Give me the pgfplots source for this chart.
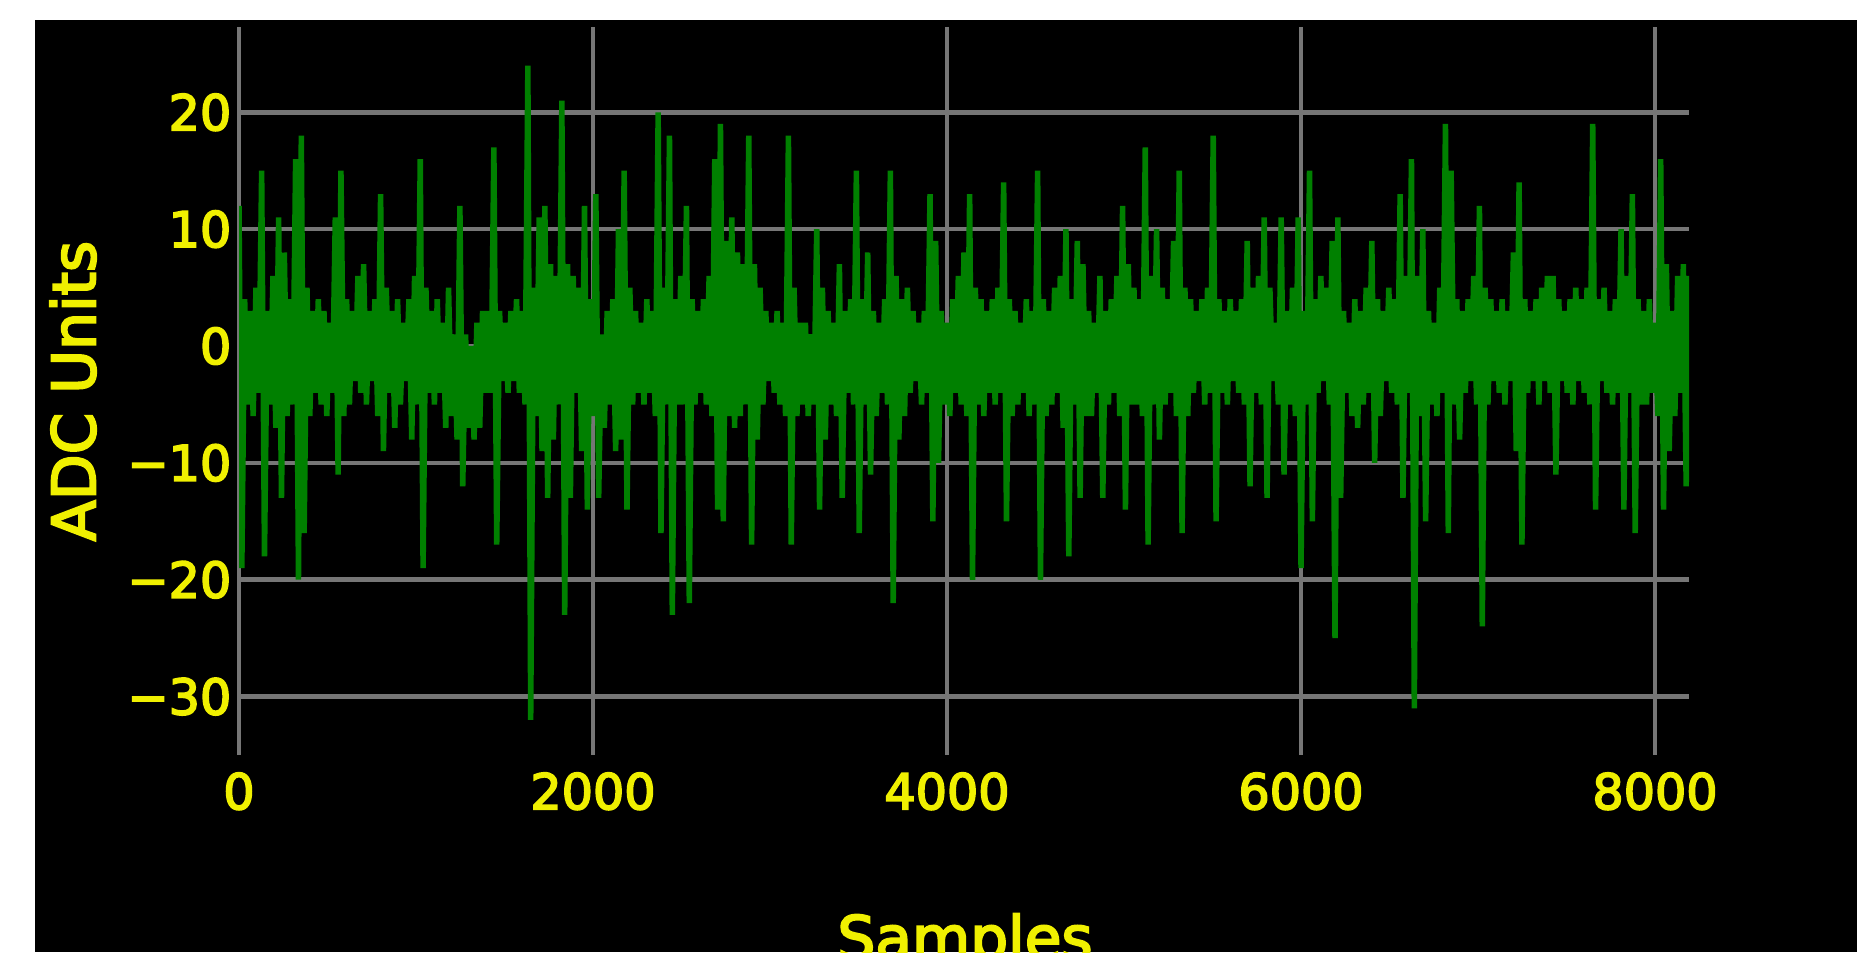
\documentclass[border=0pt]{standalone}
\usepackage{fontspec}
\setmainfont{DejaVu Sans}
\newfontfamily\lblfont{DejaVu Sans}[FakeBold=3.5]
\usepackage{pgfplots}
\pgfplotsset{compat=1.18}
\definecolor{adcgreen}{RGB}{0,128,0}
\definecolor{ticky}{RGB}{240,240,0}
\definecolor{gridc}{RGB}{118,118,118}

\begin{document}
\begin{tikzpicture}
\fill[white] (0,0) rectangle (185.7mm,95.2mm);
\fill[black] (3.5mm,0) rectangle (185.7mm,93.2mm);
\begin{axis}[
  at={(23.9mm,19.7mm)}, anchor=south west,
  scale only axis, width=145mm, height=72.8mm,
  xmin=0, xmax=8192, ymin=-35, ymax=27.3,
  axis line style={draw=none},
  tick style={draw=none},
  xtick={0,2000,4000,6000,8000},
  xticklabels={0,2000,4000,6000,8000},
  ytick={-30,-20,-10,0,10,20},
  yticklabels={−30,−20,−10,0,10,20},
  grid=major,
  major grid style={gridc, line width=0.45mm},
  ticklabel style={font=\lblfont\fontsize{14}{16}\selectfont, text=ticky},
  xticklabel style={anchor=north, inner sep=0pt, yshift=-1.7mm},
  yticklabel style={anchor=east, inner sep=0pt, xshift=-0.7mm},
]
% ADC samples, one value every 16 samples
\addplot[adcgreen, line width=0.55mm, line join=bevel]
  table[row sep=\\, x expr=\coordindex*16, y index=0] {
y\\
12\\-19\\4\\-5\\3\\-6\\5\\-4\\15\\-18\\3\\-5\\6\\-7\\11\\-13\\
8\\-6\\4\\-5\\16\\-20\\18\\-16\\5\\-6\\3\\-4\\4\\-5\\3\\-6\\
2\\-4\\11\\-11\\15\\-6\\4\\-5\\3\\-3\\6\\-4\\7\\-5\\3\\-3\\
4\\-6\\13\\-9\\5\\-4\\3\\-7\\4\\-5\\2\\-3\\4\\-8\\6\\-5\\
16\\-19\\5\\-4\\3\\-5\\4\\-4\\2\\-7\\5\\-6\\1\\-8\\12\\-12\\
1\\-7\\0\\-8\\2\\-7\\3\\-4\\3\\-4\\17\\-17\\3\\-3\\2\\-4\\
3\\-3\\4\\-4\\3\\-5\\24\\-32\\5\\-6\\11\\-9\\12\\-13\\7\\-8\\
6\\-5\\21\\-23\\7\\-13\\6\\-4\\5\\-9\\12\\-14\\4\\-6\\13\\-13\\
1\\-7\\3\\-5\\4\\-9\\10\\-8\\15\\-14\\5\\-5\\3\\-4\\2\\-5\\
4\\-4\\3\\-6\\20\\-16\\5\\-5\\18\\-23\\4\\-5\\6\\-5\\12\\-22\\
4\\-5\\3\\-4\\4\\-5\\6\\-6\\16\\-14\\19\\-15\\9\\-6\\11\\-7\\
8\\-6\\7\\-5\\18\\-17\\7\\-8\\5\\-5\\3\\-3\\2\\-4\\3\\-5\\
2\\-6\\18\\-17\\5\\-6\\2\\-5\\2\\-6\\1\\-5\\10\\-14\\5\\-8\\
3\\-5\\2\\-6\\7\\-13\\3\\-4\\4\\-5\\15\\-16\\4\\-5\\8\\-11\\
3\\-6\\2\\-4\\4\\-5\\15\\-22\\6\\-8\\4\\-6\\5\\-4\\3\\-3\\
2\\-5\\3\\-4\\13\\-15\\9\\-10\\3\\-5\\2\\-6\\4\\-4\\6\\-5\\
8\\-6\\13\\-20\\5\\-5\\4\\-6\\3\\-4\\4\\-5\\5\\-4\\14\\-15\\
4\\-6\\3\\-5\\2\\-4\\4\\-6\\3\\-5\\15\\-20\\4\\-6\\3\\-5\\
5\\-4\\6\\-7\\10\\-18\\4\\-5\\9\\-13\\7\\-6\\3\\-6\\2\\-4\\
6\\-13\\3\\-5\\4\\-4\\6\\-6\\12\\-14\\7\\-5\\5\\-5\\4\\-6\\
17\\-17\\6\\-5\\10\\-8\\5\\-5\\4\\-4\\9\\-6\\15\\-16\\5\\-6\\
4\\-4\\3\\-3\\4\\-5\\5\\-4\\18\\-15\\4\\-4\\3\\-5\\4\\-3\\
3\\-4\\4\\-5\\9\\-12\\5\\-4\\6\\-5\\11\\-13\\5\\-3\\2\\-5\\
11\\-11\\3\\-5\\5\\-6\\11\\-19\\3\\-5\\15\\-15\\4\\-4\\6\\-3\\
5\\-5\\9\\-25\\11\\-13\\3\\-4\\2\\-6\\4\\-7\\3\\-5\\5\\-4\\
9\\-10\\4\\-6\\3\\-3\\5\\-4\\4\\-5\\13\\-13\\6\\-4\\16\\-31\\
6\\-6\\10\\-15\\3\\-5\\2\\-6\\5\\-4\\19\\-16\\15\\-5\\4\\-8\\
3\\-4\\4\\-3\\6\\-5\\12\\-24\\5\\-5\\4\\-3\\3\\-4\\4\\-5\\
3\\-3\\8\\-9\\14\\-17\\4\\-4\\3\\-3\\4\\-5\\5\\-3\\6\\-4\\
6\\-11\\4\\-3\\3\\-4\\4\\-5\\5\\-3\\4\\-4\\5\\-5\\19\\-14\\
4\\-3\\5\\-4\\3\\-5\\4\\-4\\10\\-14\\6\\-4\\13\\-16\\4\\-5\\
3\\-5\\4\\-4\\2\\-6\\16\\-14\\7\\-9\\3\\-6\\6\\-4\\7\\-12\\
6\\
};
\end{axis}
\node[rotate=90, text=ticky, font=\lblfont\fontsize{17}{20}\selectfont] at (7.3mm,56.1mm) {ADC Units};
\node[anchor=base, text=ticky, font=\lblfont\fontsize{17}{20}\selectfont] at (96.5mm,-0.7mm) {Samples};
\pgfresetboundingbox
\path[use as bounding box] (0,0) rectangle (185.7mm,95.2mm);
\end{tikzpicture}
\end{document}
